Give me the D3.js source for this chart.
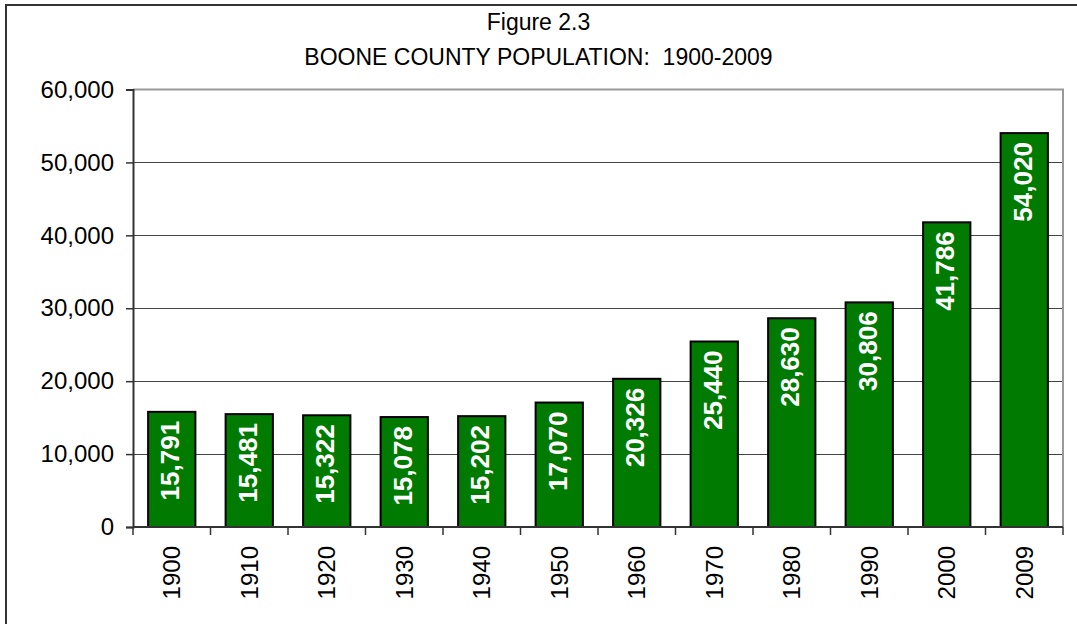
<!DOCTYPE html>
<html>
<head>
<meta charset="utf-8">
<script src="https://cdnjs.cloudflare.com/ajax/libs/d3/7.8.5/d3.min.js"></script>
<style>
  body { margin: 0; background: #fff; }
  svg { display: block; font-family: "Liberation Sans", Arial, sans-serif; }
</style>
</head>
<body>
<div id="chart"></div>
<script>
const years = ["1900", "1910", "1920", "1930", "1940", "1950", "1960", "1970", "1980", "1990", "2000", "2009"];
const population = [15791, 15481, 15322, 15078, 15202, 17070, 20326, 25440, 28630, 30806, 41786, 54020];
const yTicks = [0, 10000, 20000, 30000, 40000, 50000, 60000];

const width = 1077, height = 624;
const plot = { left: 133, right: 1063, top: 89.5, bottom: 527 };
const fmt = d3.format(",");

const svg = d3.select("#chart").append("svg")
  .attr("width", width)
  .attr("height", height);

// outer frame (only left and top edges are visible in the picture)
svg.append("rect")
  .attr("x", 6).attr("y", 5)
  .attr("width", width + 20).attr("height", height + 20)
  .attr("fill", "none")
  .attr("stroke", "#333")
  .attr("stroke-width", 2);

// titles
svg.append("text")
  .attr("x", width / 2).attr("y", 30)
  .attr("text-anchor", "middle")
  .style("font-size", "23px")
  .text("Figure 2.3");
svg.append("text")
  .attr("x", width / 2).attr("y", 65)
  .attr("text-anchor", "middle")
  .style("font-size", "23px")
  .style("white-space", "pre")
  .text("BOONE COUNTY POPULATION:  1900-2009");

const x = d3.scaleBand()
  .domain(years)
  .range([plot.left, plot.right])
  .paddingInner(0.39)
  .paddingOuter(0.195);

// category boundaries for the x tick marks
const xBounds = d3.scalePoint()
  .domain(d3.range(years.length + 1))
  .range([plot.left, plot.right]);

const y = d3.scaleLinear()
  .domain([0, 60000])
  .range([plot.bottom, plot.top]);

// gridlines
svg.append("g")
  .selectAll("line")
  .data(yTicks.slice(1, -1))
  .join("line")
  .attr("x1", plot.left).attr("x2", plot.right)
  .attr("y1", d => Math.round(y(d)) + 0.5).attr("y2", d => Math.round(y(d)) + 0.5)
  .attr("stroke", "#444")
  .attr("stroke-width", 1);

// plot frame top / right
svg.append("path")
  .attr("d", `M${plot.left},${plot.top}H${plot.right}V${plot.bottom}`)
  .attr("fill", "none")
  .attr("stroke", "#999")
  .attr("stroke-width", 2);

// bars
svg.append("g")
  .selectAll("rect")
  .data(population)
  .join("rect")
  .attr("x", (d, i) => x(years[i]))
  .attr("y", d => y(d))
  .attr("width", x.bandwidth())
  .attr("height", d => y(0) - y(d))
  .attr("fill", "#007a00")
  .attr("stroke", "#000")
  .attr("stroke-width", 2);

// value labels, inside end of each bar
svg.append("g")
  .selectAll("text")
  .data(population)
  .join("text")
  .attr("transform", (d, i) =>
    `translate(${x(years[i]) + x.bandwidth() / 2 - 2},${y(d) + 9}) rotate(-90)`)
  .attr("text-anchor", "end")
  .attr("dy", "0.36em")
  .attr("fill", "#fff")
  .style("font-size", "26px")
  .style("font-weight", "bold")
  .text(d => fmt(d));

// y axis
const yAxis = d3.axisLeft(y)
  .tickValues(yTicks)
  .tickFormat(fmt)
  .tickSize(7)
  .tickPadding(12);

const yg = svg.append("g")
  .attr("transform", `translate(${plot.left},0)`)
  .call(yAxis);
yg.select(".domain").attr("stroke", "#333").attr("stroke-width", 2);
yg.selectAll(".tick line").attr("stroke", "#333").attr("stroke-width", 1.5);
yg.selectAll(".tick text")
  .attr("fill", "#000")
  .style("font-size", "24px")
  .style("font-family", "Liberation Sans, Arial, sans-serif");

// x axis line and category boundary ticks
svg.append("line")
  .attr("x1", plot.left).attr("x2", plot.right)
  .attr("y1", plot.bottom).attr("y2", plot.bottom)
  .attr("stroke", "#333")
  .attr("stroke-width", 2);

svg.append("g")
  .selectAll("line")
  .data(xBounds.domain())
  .join("line")
  .attr("x1", d => xBounds(d)).attr("x2", d => xBounds(d))
  .attr("y1", plot.bottom).attr("y2", plot.bottom + 8)
  .attr("stroke", "#333")
  .attr("stroke-width", 1.5);

// x labels
svg.append("g")
  .selectAll("text")
  .data(years)
  .join("text")
  .attr("transform", d => `translate(${x(d) + x.bandwidth() / 2},546) rotate(-90)`)
  .attr("text-anchor", "end")
  .attr("dy", "0.36em")
  .attr("fill", "#000")
  .style("font-size", "24px")
  .text(d => d);
</script>
</body>
</html>
